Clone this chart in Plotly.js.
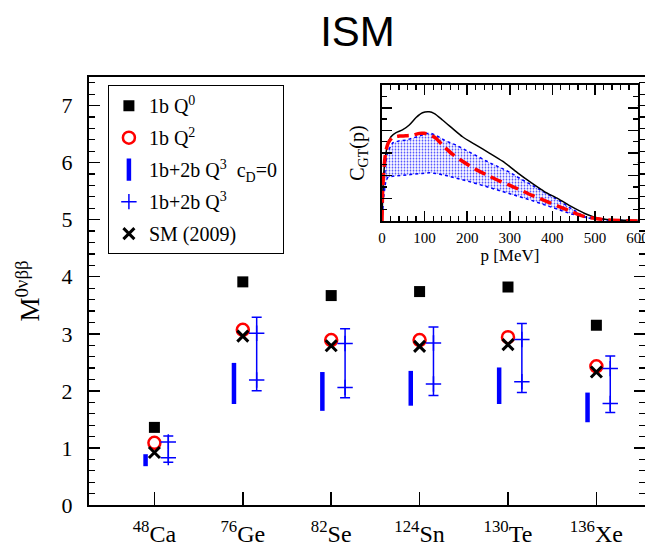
<!DOCTYPE html>
<html>
<head>
<meta charset="utf-8">
<script src="https://cdn.plot.ly/plotly-3.0.1.min.js"></script>
<style>
  html, body { margin: 0; padding: 0; background: #fff; overflow: hidden; }
  #chart { width: 645px; height: 546px; }
</style>
</head>
<body>
<div id="chart"></div>
<script>
// ---------------- DATA ----------------
const massNumbers = ['48', '76', '82', '124', '130', '136'];
const elements    = ['Ca', 'Ge', 'Se', 'Sn', 'Te', 'Xe'];

// 1b Q^0 (black squares)
const oneBodyQ0 = [1.36, 3.91, 3.67, 3.74, 3.82, 3.15];
// 1b Q^2 (red open circles)
const oneBodyQ2 = [1.09, 3.07, 2.89, 2.89, 2.94, 2.43];
// SM (2009) (black crosses)
const sm2009    = [0.92, 2.96, 2.79, 2.78, 2.81, 2.33];
// 1b+2b Q^3, c_D = 0 (thick blue bars)
const cD0Low    = [0.68, 1.77, 1.65, 1.74, 1.77, 1.45];
const cD0High   = [0.89, 2.49, 2.33, 2.35, 2.41, 1.97];
// 1b+2b Q^3 (blue pluses with error range)
const q3Upper   = [1.105, 3.01, 2.83, 2.84, 2.90, 2.39];
const q3Lower   = [0.83, 2.19, 2.06, 2.12, 2.16, 1.78];
const q3RangeLow  = [0.75, 2.00, 1.88, 1.92, 1.97, 1.62];
const q3RangeHigh = [1.21, 3.29, 3.09, 3.12, 3.18, 2.61];

// Inset: C_GT(p)
const pBlack = [0, 3, 8, 13, 21, 33, 48, 64, 80, 95, 111, 123, 142, 166, 189, 220, 252, 283, 300, 320, 351, 382, 413, 445, 476, 499, 523, 553, 600];
const cBlack = [0, 1.8, 2.82, 3.36, 3.72, 3.9, 4.02, 4.24, 4.57, 4.78, 4.82, 4.74, 4.46, 4.08, 3.72, 3.36, 3.0, 2.64, 2.4, 2.1, 1.68, 1.29, 0.99, 0.63, 0.33, 0.17, 0.08, 0.04, 0.02];
const pRed = [0, 1.6, 5.5, 9.4, 15.6, 25, 41, 56, 72, 88, 99, 111, 127, 142, 166, 189, 220, 252, 275, 298, 320, 351, 382, 413, 445, 476, 499, 522, 561, 600];
const cRed = [0, 1.38, 2.52, 3.12, 3.48, 3.69, 3.75, 3.76, 3.79, 3.87, 3.87, 3.82, 3.65, 3.35, 2.94, 2.64, 2.28, 1.98, 1.77, 1.59, 1.41, 1.14, 0.9, 0.66, 0.41, 0.19, 0.12, 0.06, 0.02, 0];
const pBandUp = [0, 3, 8, 13, 25, 41, 56, 72, 88, 103, 115, 130, 150, 173, 197, 220, 252, 283, 302, 320, 351, 382, 413, 445, 476, 499, 538, 600];
const cBandUp = [0, 1.38, 2.4, 3.06, 3.45, 3.54, 3.57, 3.65, 3.75, 3.86, 3.87, 3.75, 3.53, 3.36, 3.12, 2.88, 2.58, 2.31, 2.13, 1.92, 1.59, 1.26, 0.93, 0.54, 0.19, 0.12, 0.04, 0];
const pBandLow = [0, 3, 8, 13, 25, 48, 72, 95, 111, 127, 150, 173, 205, 236, 267, 288, 320, 351, 382, 413, 445, 476, 499, 538, 600];
const cBandLow = [0, 0.92, 1.66, 1.92, 1.98, 2.01, 2.04, 2.1, 2.13, 2.1, 2.01, 1.91, 1.74, 1.57, 1.39, 1.29, 1.11, 0.91, 0.71, 0.51, 0.31, 0.16, 0.08, 0.03, 0];

// ---------------- BUILD ----------------
const SERIF = 'Liberation Serif, Times New Roman, serif';
const BLUE = '#0000ff';
const idx = massNumbers.map((_, i) => i);
const tickText = massNumbers.map((m, i) => '<sup>' + m + '</sup>' + elements[i]);
const barOffset = -0.1;
const errOffset = 0.157;

const barX = [], barY = [];
idx.forEach(i => { barX.push(i + barOffset, i + barOffset, null); barY.push(cD0Low[i], cD0High[i], null); });

const plusX = [], plusY = [];
idx.forEach(i => { plusX.push(i + errOffset, i + errOffset); plusY.push(q3Upper[i], q3Lower[i]); });

const errMid = idx.map(i => (q3RangeLow[i] + q3RangeHigh[i]) / 2);
const errHalf = idx.map(i => (q3RangeHigh[i] - q3RangeLow[i]) / 2);

const traces = [
  { x: idx, y: oneBodyQ0, type: 'scatter', mode: 'markers', name: '1b Q<sup>0</sup>', legendgroup: 'a',
    marker: { symbol: 'square', size: 11, color: '#000' } },
  { x: idx, y: oneBodyQ2, type: 'scatter', mode: 'markers', name: '1b Q<sup>2</sup>', legendgroup: 'b',
    marker: { symbol: 'circle-open', size: 12, color: '#ff0000', line: { width: 2.5, color: '#ff0000' } } },
  { x: [null], y: [null], type: 'scatter', mode: 'markers', name: '1b+2b Q<sup>3</sup>  c<sub>D</sub>=0', legendgroup: 'c',
    marker: { symbol: 'line-ns-open', size: 16, color: BLUE, line: { width: 4.5, color: BLUE } } },
  { x: barX, y: barY, type: 'scatter', mode: 'lines', showlegend: false, legendgroup: 'c2', hoverinfo: 'skip',
    line: { color: BLUE, width: 4.5 } },
  { x: idx.map(i => i + errOffset), y: errMid, type: 'scatter', mode: 'markers', showlegend: false, legendgroup: 'd2',
    marker: { size: 2, opacity: 0, color: BLUE },
    error_y: { type: 'data', array: errHalf, visible: true, color: BLUE, thickness: 1.5, width: 5 } },
  { x: plusX, y: plusY, type: 'scatter', mode: 'markers', name: '1b+2b Q<sup>3</sup>', legendgroup: 'd',
    marker: { symbol: 'cross-thin-open', size: 11, color: BLUE, line: { width: 1.5, color: BLUE } } },
  { x: idx, y: sm2009, type: 'scatter', mode: 'markers', name: 'SM (2009)', legendgroup: 'e',
    marker: { symbol: 'x-thin-open', size: 11, color: '#000', line: { width: 3, color: '#000' } } },

  // inset
  { x: pBandLow, y: cBandLow, xaxis: 'x2', yaxis: 'y2', type: 'scatter', mode: 'lines', showlegend: false,
    line: { color: BLUE, width: 1.5, dash: 'dot' } },
  { x: pBandUp, y: cBandUp, xaxis: 'x2', yaxis: 'y2', type: 'scatter', mode: 'lines', showlegend: false,
    line: { color: BLUE, width: 1.5, dash: 'dot' }, fill: 'tonexty', fillcolor: 'rgba(0,0,255,0.0)',
    fillpattern: { shape: '.', fgcolor: 'rgba(40,40,255,0.85)', bgcolor: 'rgba(255,255,255,0)', size: 3, solidity: 0.28 } },
  { x: pBlack, y: cBlack, xaxis: 'x2', yaxis: 'y2', type: 'scatter', mode: 'lines', showlegend: false,
    line: { color: '#000', width: 1.5, shape: 'spline', smoothing: 0.6 } },
  { x: pRed, y: cRed, xaxis: 'x2', yaxis: 'y2', type: 'scatter', mode: 'lines', showlegend: false,
    line: { color: '#ff0000', width: 3.5, dash: '12px,6px', shape: 'spline', smoothing: 0.6 } }
];

const layout = {
  width: 645, height: 546,
  margin: { l: 89, r: 0, t: 77, b: 41 },
  paper_bgcolor: '#fff', plot_bgcolor: '#fff',
  showlegend: true,
  title: { text: 'ISM', font: { family: 'Liberation Sans, Arial, sans-serif', size: 42, color: '#000' },
           x: 357.5 / 645, xref: 'container', xanchor: 'center', y: 1 - 31 / 546, yref: 'container', yanchor: 'middle' },
  font: { family: SERIF, color: '#000' },
  legend: { x: 0.034, y: 0.981, xanchor: 'left', yanchor: 'top', bgcolor: '#fff', bordercolor: '#000', borderwidth: 1,
            font: { family: SERIF, size: 20, color: '#000' }, tracegroupgap: 3, itemsizing: 'trace' },
  xaxis: {
    range: [-0.74, 5.55], tickvals: idx, ticktext: tickText, ticks: 'inside', ticklen: 13, tickwidth: 1.5, tickcolor: '#000',
    showline: true, linecolor: '#000', linewidth: 2, mirror: true, showgrid: false, zeroline: false,
    tickfont: { family: SERIF, size: 24, color: '#000' }, ticklabelstandoff: 6
  },
  yaxis: {
    range: [0, 7.5], dtick: 1, ticks: 'inside', ticklen: 11, tickwidth: 1.5, tickcolor: '#000',
    minor: { dtick: 0.2, ticks: 'inside', ticklen: 6, tickwidth: 1.2, tickcolor: '#000', showgrid: false },
    showline: true, linecolor: '#000', linewidth: 2, mirror: 'ticks', showgrid: false, zeroline: false,
    tickfont: { family: SERIF, size: 22, color: '#000' }, ticklabelstandoff: 10,
    title: { text: 'M<sup>0νββ</sup>', font: { family: SERIF, size: 27, color: '#000' }, standoff: 14 }
  },
  xaxis2: {
    domain: [0.527, 0.987], anchor: 'y2', range: [0, 600.5], tickvals: [0, 100, 200, 300, 400, 500, 600],
    ticks: 'inside', ticklen: 10, tickwidth: 1.5, tickcolor: '#000', ticklabeloverflow: 'allow',
    minor: { dtick: 20, ticks: 'inside', ticklen: 5, tickwidth: 1.2, tickcolor: '#000', showgrid: false },
    showline: true, linecolor: '#000', linewidth: 2, mirror: 'ticks', showgrid: false, zeroline: false,
    tickfont: { family: SERIF, size: 15, color: '#000' }, ticklabelstandoff: 2,
    title: { text: 'p [MeV]', font: { family: SERIF, size: 17, color: '#000' }, standoff: 2 }
  },
  yaxis2: {
    domain: [0.6636, 0.981], anchor: 'x2', range: [0, 6], dtick: 1, ticks: 'inside', ticklen: 10, tickwidth: 1.5, tickcolor: '#000',
    minor: { dtick: 0.5, ticks: 'inside', ticklen: 5, tickwidth: 1.2, tickcolor: '#000', showgrid: false },
    showline: true, linecolor: '#000', linewidth: 2, mirror: 'ticks', showgrid: false, zeroline: false,
    showticklabels: false,
    title: { text: 'C<sub>GT</sub>(p)', font: { family: SERIF, size: 20, color: '#000' }, standoff: 10 }
  }
};

Plotly.newPlot('chart', traces, layout, { displayModeBar: false, staticPlot: true });
</script>
</body>
</html>
